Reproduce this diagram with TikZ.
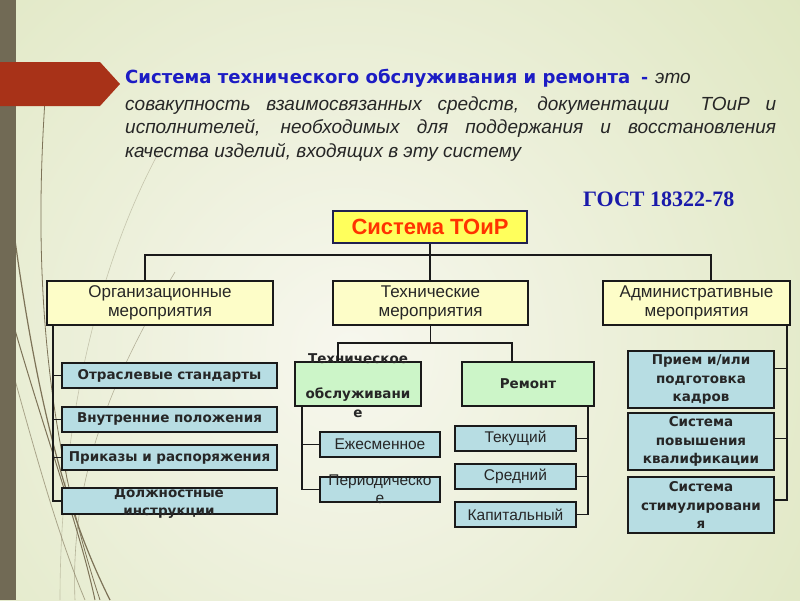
\documentclass[tikz,border=0pt]{standalone}
\usepackage{fontspec}
\setmainfont{Liberation Sans}
\newfontfamily\dvs{DejaVu Sans}
\newfontfamily\gostfont{Liberation Serif}
\usetikzlibrary{calc}
\definecolor{bgC}{HTML}{F7F7EE}
\definecolor{bgR}{HTML}{DCE5BC}
\definecolor{barc}{HTML}{716A55}
\definecolor{redar}{HTML}{A83218}
\definecolor{deco}{HTML}{7D7358}
\definecolor{tblue}{HTML}{1C1CC4}
\definecolor{gblue}{HTML}{1A1AAA}
\definecolor{txt}{HTML}{262626}
\definecolor{bord}{HTML}{1A1A1A}
\definecolor{navy}{HTML}{202050}
\definecolor{yfill}{HTML}{FDFDC8}
\definecolor{topfill}{HTML}{FFFF5C}
\definecolor{redt}{HTML}{FF3300}
\definecolor{gfill}{HTML}{CCF5C8}
\definecolor{bfill}{HTML}{B7DDE3}
\newcommand\bodyf{\fontsize{19}{23}\selectfont\itshape\color{txt}}
\begin{document}
\begin{tikzpicture}[x=1pt,y=-1pt,
  box/.style={draw=bord, line width=2.2pt, inner sep=0pt, align=center, text=txt},
  ylw/.style={box, fill=yfill, font=\fontsize{17}{18.5}\selectfont},
  blu/.style={box, fill=bfill},
  grn/.style={box, fill=gfill},
  bt/.style={font=\dvs\bfseries\fontsize{13.5}{18.5}\selectfont, text=txt},
  rt/.style={font=\fontsize{15.5}{18}\selectfont, text=txt},
  lbl/.style={inner sep=0pt, anchor=base},
  conn/.style={draw=bord, line width=1.8pt},
  decoline/.style={draw=deco}]
\useasboundingbox (0,0) rectangle (800,600);
\begin{scope}
\clip (0,0) rectangle (800,600);
\shade[inner color=bgC, outer color=bgR] (-300,-300) rectangle (1000,1000);
\draw[decoline, line width=0.8pt] (45,100) .. controls (35,250) and (40,420) .. (100,600);
\draw[decoline, line width=1.2pt] (15,240) .. controls (40,420) and (70,520) .. (110,600);
\draw[decoline, line width=0.6pt, opacity=.35] (160,150) .. controls (100,260) and (60,420) .. (60,600);
\draw[decoline, line width=0.6pt, opacity=.5] (175,272) .. controls (110,380) and (70,480) .. (75,600);
\draw[decoline, line width=1pt] (15,330) .. controls (50,450) and (80,530) .. (95,600);
\draw[decoline, line width=0.8pt, opacity=.6] (15,380) .. controls (40,470) and (60,540) .. (85,600);
\fill[barc] (0,0) rectangle (16,600);
\fill[redar] (0,62) -- (100,62) -- (120,84) -- (100,106) -- (0,106) -- cycle;
\end{scope}
% title text
\node[inner sep=0pt, anchor=base west] (t1) at (125,83) {\resizebox{505pt}{!}{\color{tblue}\dvs\bfseries Система технического обслуживания и ремонта}};
\node[inner sep=0pt, anchor=base west, text=tblue] (t1d) at (641,83) {\dvs\bfseries\fontsize{17}{20}\selectfont -};
\node[inner sep=0pt, anchor=base west] (t1e) at (655,83) {\bodyf это};
\node[inner sep=0pt, anchor=base west] (t2) at (125,110) {\bodyf\makebox[651pt][s]{совакупность взаимосвязанных средств, документации\ \ ТОиР и}};
\node[inner sep=0pt, anchor=base west] (t3) at (125,133) {\bodyf\makebox[651pt][s]{исполнителей, необходимых для поддержания и восстановления}};
\node[inner sep=0pt, anchor=base west] (t4) at (125,157) {\bodyf качества изделий, входящих в эту систему};
\node[inner sep=0pt, anchor=base west, text=gblue] (gost) at (583,206) {\gostfont\bfseries\fontsize{22}{26}\selectfont ГОСТ 18322-78};
% boxes
\node[draw=navy, line width=2.5pt, fill=topfill, minimum width=194, minimum height=32, inner sep=0pt, text=redt, font=\bfseries\fontsize{22}{24}\selectfont] (top) at (430,227) {Система ТОиР};
\node[ylw, minimum width=226, minimum height=44] (org) at (160,303) {Организационные\\мероприятия};
\node[ylw, minimum width=195, minimum height=44] (tech) at (430.5,303) {Технические\\мероприятия};
\node[ylw, minimum width=187, minimum height=44] (adm) at (696.5,303) {Административные\\мероприятия};
\node[blu, bt, minimum width=215, minimum height=25] (os) at (169.5,375.5) {Отраслевые стандарты};
\node[blu, bt, minimum width=215, minimum height=25] (vp) at (169.5,419.5) {Внутренние положения};
\node[blu, bt, minimum width=215, minimum height=25] (pr) at (169.5,457.5) {Приказы и распоряжения};
\node[blu, minimum width=215, minimum height=26] (di) at (169.5,501) {};
\node[grn, minimum width=126, minimum height=44] (to) at (358,384) {};
\node[grn, bt, minimum width=132, minimum height=44] (rem) at (528,384) {Ремонт};
\node[blu, rt, minimum width=120, minimum height=25] (ezh) at (380,444.5) {Ежесменное};
\node[blu, minimum width=120, minimum height=25] (per) at (380,489.5) {};
\node[blu, rt, minimum width=121, minimum height=25] (tek) at (515.5,438.5) {Текущий};
\node[blu, rt, minimum width=121, minimum height=25] (sre) at (515.5,476.5) {Средний};
\node[blu, rt, minimum width=121, minimum height=25] (kap) at (515.5,514.5) {Капитальный};
\node[blu, bt, minimum width=146, minimum height=57] (a1) at (701,379.5) {Прием и/или\\подготовка\\кадров};
\node[blu, bt, minimum width=146, minimum height=57] (a2) at (701,441.5) {Система\\повышения\\квалификации};
\node[blu, bt, minimum width=146, minimum height=56] (a3) at (701,505) {Система\\стимулировани\\я};
% overflowing labels
\node[lbl, bt] (di1) at (169,497) {Должностные};
\node[lbl, bt] (di2) at (169,515) {инструкции};
\node[lbl, bt] (to1) at (358,363) {Техническое};
\node[lbl, bt] (to2) at (358,398) {обслуживани};
\node[lbl, bt] (to3) at (358,417) {е};
\node[lbl, rt] (pe1) at (380,485) {Периодическо};
\node[lbl, rt] (pe2) at (380,503) {е};
% connectors
\coordinate (b1) at (145,255);
\coordinate (b2) at (711,255);
\draw[conn] (b1 |- org.north) -- (b1) -- (b2) -- (b2 |- adm.north);
\draw[conn] (top.south) -- (top.south |- b1);
\draw[conn] (top.south |- b1) -- (top.south |- tech.north);
\coordinate (ov) at (53,0);
\draw[conn] (ov |- org.south) -- (ov |- di.west) -- (di.west);
\draw[conn] (ov |- os.west) -- (os.west);
\draw[conn] (ov |- vp.west) -- (vp.west);
\draw[conn] (ov |- pr.west) -- (pr.west);
\coordinate (tl) at (338,343);
\coordinate (tr) at (512,343);
\draw[conn] (tech.south) -- (tech.south |- tl);
\draw[conn] (tl |- to.north) -- (tl) -- (tr) -- (tr |- rem.north);
\coordinate (tv) at (302,0);
\draw[conn] (tv |- to.south) -- (tv |- per.west) -- (per.west);
\draw[conn] (tv |- ezh.west) -- (ezh.west);
\coordinate (rv) at (588,0);
\draw[conn] (rv |- rem.south) -- (rv |- kap.east) -- (kap.east);
\draw[conn] (rv |- tek.east) -- (tek.east);
\draw[conn] (rv |- sre.east) -- (sre.east);
\coordinate (av) at (787,0);
\coordinate (a1t) at ($(a1.east)+(0,-11)$);
\coordinate (a2t) at ($(a2.east)+(0,-3)$);
\coordinate (a3t) at ($(a3.east)+(0,-5)$);
\draw[conn] (av |- adm.south) -- (av |- a3t) -- (a3t);
\draw[conn] (av |- a1t) -- (a1t);
\draw[conn] (av |- a2t) -- (a2t);
\end{tikzpicture}
\end{document}
